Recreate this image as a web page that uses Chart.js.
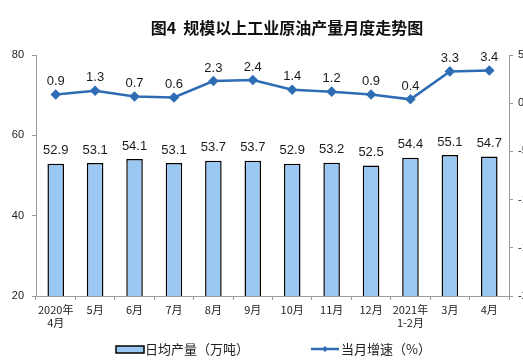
<!DOCTYPE html>
<html>
<head>
<meta charset="utf-8">
<script src="https://cdn.jsdelivr.net/npm/chart.js@4.4.0/dist/chart.umd.min.js"></script>
<style>
  html, body { margin: 0; padding: 0; background: #fff; overflow: hidden; }
  #wrap { width: 523px; height: 361px; overflow: hidden; }
  #box { position: relative; width: 545px; height: 361px; }
</style>
</head>
<body>
<div id="wrap"><div id="box"><canvas id="chart"></canvas></div></div>
<script>
// 数据
const months = [['2020年', '4月'], '5月', '6月', '7月', '8月', '9月', '10月', '11月', '12月', ['2021年', '1-2月'], '3月', '4月'];
const dailyOutput = [52.9, 53.1, 54.1, 53.1, 53.7, 53.7, 52.9, 53.2, 52.5, 54.4, 55.1, 54.7];
const growthRate = [0.9, 1.3, 0.7, 0.6, 2.3, 2.4, 1.4, 1.2, 0.9, 0.4, 3.3, 3.4];
const leftTicks = [20, 40, 60, 80];
const rightTicks = [-20, -15, -10, -5, 0, 5];

const titleText = '图4  规模以上工业原油产量月度走势图';
const barLegend = '日均产量（万吨）';
const lineLegend = '当月增速（%）';

const BAR_COLOR = '#9bc8f3';
const LINE_COLOR = '#2e6db4';
const AXIS_COLOR = '#9a9a9a';
const CJK = '"Noto Sans CJK SC", sans-serif';

// 标题、数据标签、图例
const extras = {
  id: 'extras',
  afterDraw(chart) {
    const ctx = chart.ctx;
    ctx.save();
    // 标题
    ctx.fillStyle = '#111';
    ctx.font = 'bold 16px ' + CJK;
    ctx.textAlign = 'center';
    ctx.textBaseline = 'middle';
    ctx.fillText(titleText, 287, 28);

    // 数据标签
    ctx.font = '13px "Liberation Sans", Arial, sans-serif';
    ctx.fillStyle = '#1a1a1a';
    chart.getDatasetMeta(0).data.forEach((bar, i) => {
      ctx.fillText(dailyOutput[i].toFixed(1), bar.x, bar.y - 13);
    });
    chart.getDatasetMeta(1).data.forEach((pt, i) => {
      ctx.fillText(growthRate[i].toFixed(1), pt.x, pt.y - 13);
    });

    // 图例
    const ly = 349;
    ctx.fillStyle = BAR_COLOR;
    ctx.fillRect(116, ly - 3, 28, 7);
    ctx.strokeStyle = '#000';
    ctx.lineWidth = 1.5;
    ctx.strokeRect(116, ly - 3, 28, 7);
    ctx.font = '13px ' + CJK;
    ctx.fillStyle = '#222';
    ctx.textAlign = 'left';
    ctx.fillText(barLegend, 145, ly);

    ctx.strokeStyle = LINE_COLOR;
    ctx.lineWidth = 2.5;
    ctx.beginPath();
    ctx.moveTo(311, ly);
    ctx.lineTo(339, ly);
    ctx.stroke();
    ctx.fillStyle = LINE_COLOR;
    ctx.beginPath();
    ctx.moveTo(325, ly - 3);
    ctx.lineTo(328, ly);
    ctx.lineTo(325, ly + 3);
    ctx.lineTo(322, ly);
    ctx.closePath();
    ctx.fill();
    ctx.fillStyle = '#222';
    ctx.fillText(lineLegend, 341, ly);
    ctx.restore();
  }
};

new Chart(document.getElementById('chart'), {
  data: {
    labels: months,
    datasets: [
      {
        type: 'bar',
        label: barLegend,
        data: dailyOutput,
        yAxisID: 'y',
        backgroundColor: BAR_COLOR,
        borderColor: '#000',
        borderWidth: 1.5,
        barPercentage: 0.42,
        categoryPercentage: 1,
        order: 2
      },
      {
        type: 'line',
        label: lineLegend,
        data: growthRate,
        yAxisID: 'y1',
        borderColor: LINE_COLOR,
        backgroundColor: LINE_COLOR,
        borderWidth: 2.5,
        pointStyle: 'rectRot',
        pointRadius: 3.5,
        tension: 0,
        order: 1
      }
    ]
  },
  options: {
    responsive: true,
    maintainAspectRatio: false,
    animation: false,
    layout: { padding: { top: 55, bottom: 25, left: 0, right: 0 } },
    plugins: {
      legend: { display: false },
      title: { display: false },
      tooltip: { enabled: false }
    },
    scales: {
      x: {
        grid: { display: true, drawOnChartArea: false, offset: true, tickLength: 4, color: AXIS_COLOR },
        border: { color: AXIS_COLOR },
        ticks: {
          color: '#222',
          font: { family: CJK, size: 11, lineHeight: 1.2 },
          maxRotation: 0,
          autoSkip: false,
          padding: 3
        },
        afterFit(s) { s.height = 40; }
      },
      y: {
        position: 'left',
        min: 20,
        max: 80,
        afterBuildTicks(s) { s.ticks = leftTicks.map(v => ({ value: v })); },
        grid: { drawOnChartArea: false, tickLength: 4, color: AXIS_COLOR },
        border: { color: AXIS_COLOR },
        ticks: { color: '#222', font: { family: '"Liberation Sans", sans-serif', size: 11 }, padding: 8 },
        afterFit(s) { s.width = 36; }
      },
      y1: {
        position: 'right',
        min: -20,
        max: 5,
        afterBuildTicks(s) { s.ticks = rightTicks.map(v => ({ value: v })); },
        grid: { drawOnChartArea: false, tickLength: 4, color: AXIS_COLOR },
        border: { color: AXIS_COLOR },
        ticks: { color: '#222', font: { family: '"Liberation Sans", sans-serif', size: 11 }, padding: 5 },
        afterFit(s) { s.width = 36; }
      }
    }
  },
  plugins: [extras]
});
</script>
</body>
</html>
